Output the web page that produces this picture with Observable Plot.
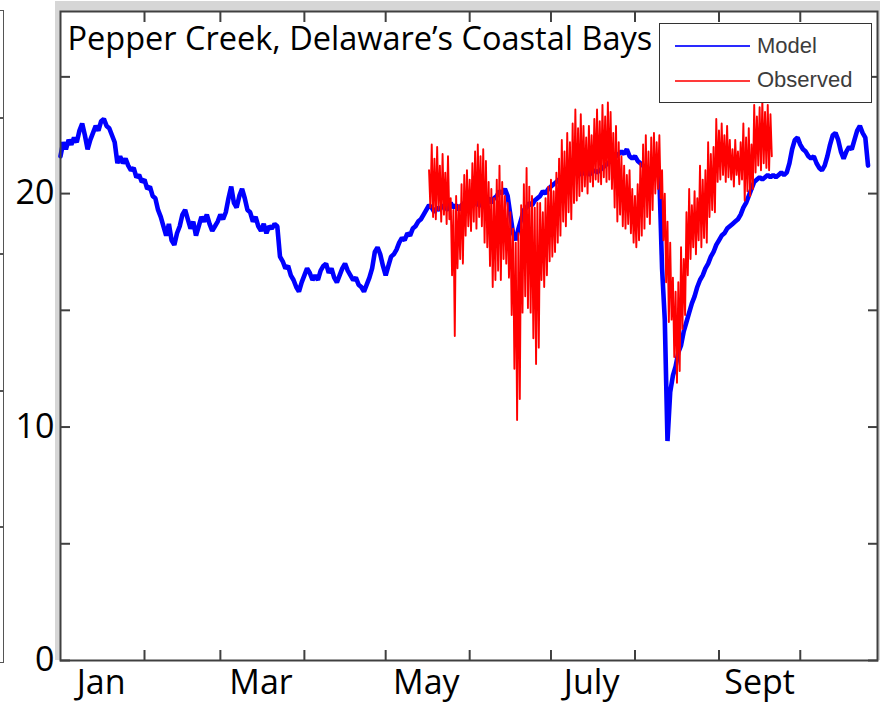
<!DOCTYPE html>
<html>
<head>
<meta charset="utf-8">
<script src="https://cdn.jsdelivr.net/npm/d3@7"></script>
<script src="https://cdn.jsdelivr.net/npm/@observablehq/plot@0.6"></script>
<style>
  html, body { margin: 0; padding: 0; background: #fff; }
  #fig { position: relative; width: 880px; height: 704px; overflow: hidden; background: #fff; }
  #backdrop { position: absolute; left: 55px; top: 1px; width: 825px; height: 659px; background: #d6d6d6; }
  #chart { position: absolute; left: 0; top: 0; }
  #neighbor { position: absolute; left: 0; top: 10px; width: 3px; height: 651px; border-top: 1.5px solid #555; border-right: 1.5px solid #555; border-bottom: 1.5px solid #555; }
  #neighbor .tk { position: absolute; left: 0; width: 4px; height: 1.5px; background: #555; }
  #legend { position: absolute; left: 659px; top: 23px; width: 211px; height: 78px; border: 1.5px solid #333; background: #fff;
            font-family: "Liberation Sans", Arial, sans-serif; font-size: 22px; color: #3c3c3c; }
  #legend .sw { position: absolute; left: 15px; width: 75px; height: 2px; }
  #legend .lab { position: absolute; left: 97px; line-height: 24px; }
</style>
</head>
<body>
<div id="fig">
  <div id="backdrop"></div>
  <div id="neighbor">
    <div class="tk" style="top:106px"></div>
    <div class="tk" style="top:242px"></div>
    <div class="tk" style="top:379px"></div>
    <div class="tk" style="top:515px"></div>
  </div>
  <div id="chart"></div>
  <div id="legend">
    <div class="sw" style="top:21px;background:#2a2aff"></div>
    <div class="lab" style="top:10px">Model</div>
    <div class="sw" style="top:56px;background:#ff3a3a"></div>
    <div class="lab" style="top:44px">Observed</div>
  </div>
</div>
<script>
// Pepper Creek salinity: daily model output and twice-daily observed extremes.
const title = "Pepper Creek, Delaware’s Coastal Bays";

// Model series, one value per day starting Jan 1.
const modelStart = "2010-01-01";
const modelSalinity = [
  21.6, 22.2, 21.9, 22.3, 22.1, 22.4, 22.2, 22.7, 23.0, 22.5,
  21.9, 22.3, 22.6, 22.9, 22.7, 23.1, 23.2, 22.9, 22.8, 22.5,
  22.2, 21.3, 21.6, 21.3, 21.5, 21.2, 21.0, 21.1, 20.7, 20.8,
  20.5, 20.6, 20.2, 20.3, 19.9, 19.8, 19.3, 19.0, 18.6, 18.2,
  18.7, 18.0, 17.8, 18.3, 18.6, 19.1, 19.3, 18.9, 18.5, 18.8,
  18.2, 18.6, 19.0, 18.8, 19.1, 18.7, 18.4, 18.6, 18.8, 19.1,
  18.9, 19.2, 19.8, 20.3, 19.6, 19.4, 19.9, 20.2, 19.8, 19.3,
  19.2, 18.8, 19.0, 18.6, 18.4, 18.7, 18.3, 18.6, 18.5, 18.7,
  18.6, 17.3, 17.1, 16.8, 16.9, 16.5, 16.3, 16.0, 15.8, 16.2,
  16.5, 16.8, 16.6, 16.3, 16.5, 16.3, 16.7, 16.9, 17.0, 16.6,
  16.8, 16.4, 16.2, 16.5, 16.8, 17.0, 16.7, 16.5, 16.3, 16.4,
  16.1, 16.0, 15.8, 16.1, 16.4, 16.8, 17.5, 17.7, 17.4, 16.9,
  16.5, 16.9, 17.3, 17.4, 17.6, 17.9, 18.1, 18.0, 18.3, 18.2,
  18.5, 18.6, 18.8, 18.9, 19.1, 19.3, 19.5, 19.4, 19.2, 19.4,
  19.3, 19.5, 19.4, 19.3, 19.6, 19.4, 19.5, 19.3, 19.5, 19.6,
  19.4, 19.6, 19.5, 19.7, 19.5, 19.6, 19.4, 19.7, 19.8, 19.6,
  19.8, 19.9, 20.1, 20.0, 20.2, 19.9, 19.1, 18.3, 18.0, 18.5,
  18.9, 19.3, 19.4, 19.6, 19.5, 19.7, 19.8, 19.9, 20.1, 20.0,
  20.2, 20.3, 20.4, 20.5, 20.6, 20.7, 20.6, 20.8, 20.9, 20.8,
  20.9, 21.0, 20.8, 20.9, 21.0, 20.8, 20.9, 21.0, 20.9, 21.0,
  21.1, 21.2, 21.3, 21.4, 21.5, 21.6, 21.7, 21.8, 21.7, 21.9,
  21.6, 21.5, 21.6, 21.4, 21.3, 21.2, 21.0, 21.1, 20.9, 20.8,
  20.9, 20.7, 16.8, 14.6, 9.4, 11.5, 12.2, 12.6, 13.2, 13.5,
  14.1, 14.5, 14.9, 15.3, 15.6, 16.0, 16.3, 16.5, 16.8, 17.0,
  17.3, 17.5, 17.8, 18.0, 18.2, 18.3, 18.5, 18.6, 18.7, 18.8,
  18.9, 19.1, 19.4, 19.6, 19.9, 20.2, 20.5, 20.6, 20.7, 20.6,
  20.7, 20.8, 20.7, 20.8, 20.7, 20.8, 20.9, 20.8, 20.9, 21.3,
  21.9, 22.3, 22.4, 22.1, 21.9, 21.8, 21.6, 21.5, 21.6, 21.3,
  21.1, 21.0, 21.2, 21.6, 22.1, 22.5, 22.6, 22.3, 21.8, 21.5,
  21.8, 22.0, 21.9, 22.3, 22.7, 22.9, 22.6, 22.4, 21.2
];

// Observed record: daily high and low readings starting May 17.
const obsStart = "2010-05-17";
const obsHigh = [
  21.0, 22.1, 21.5, 22.0, 21.2, 21.7, 20.9, 21.6, 19.8, 19.3,
  19.9, 19.5, 20.4, 20.8, 21.0, 20.6, 21.3, 21.8, 22.1, 21.6,
  21.9, 21.4, 20.5, 20.2, 19.8, 20.6, 21.2, 20.5, 19.9, 19.6,
  19.2, 18.5, 17.9, 18.3, 19.5, 20.4, 21.1, 20.3, 19.9, 19.4,
  19.6, 19.6, 19.2, 19.8, 20.3, 20.6, 20.1, 20.9, 21.5, 22.3,
  21.8, 22.6, 22.2, 23.0, 23.6, 22.8, 23.4, 22.9, 22.4, 22.9,
  22.5, 23.2, 23.6, 23.1, 23.8, 23.3, 23.9, 23.5, 22.6, 22.9,
  22.2, 21.6, 21.2, 20.8, 21.0, 20.2, 19.9, 20.4, 21.3, 22.1,
  22.5, 21.8, 22.4, 22.6, 22.2, 22.5, 21.0, 20.0, 18.8, 17.9,
  16.4, 15.8, 16.2, 17.7, 17.2, 19.2, 20.2, 19.5, 20.1, 19.8,
  21.2, 20.6, 21.0, 22.2, 21.7, 22.0, 23.2, 22.7, 23.0, 22.5,
  22.9, 22.3, 21.9, 22.3, 21.8, 22.2, 23.0, 22.4, 22.8, 22.1,
  23.8, 23.3, 23.7, 24.0, 23.5, 23.8, 23.4
];
const obsLow = [
  19.4, 19.0, 18.9, 19.3, 18.8, 19.1, 18.7, 18.9, 16.5, 13.9,
  16.8, 17.2, 17.0, 18.2, 18.6, 18.4, 18.8, 18.5, 19.0, 18.6,
  17.9, 17.7, 16.9, 16.0, 16.3, 16.7, 16.3, 17.2, 17.0, 16.4,
  14.8, 12.5, 10.3, 11.2, 14.9, 15.6, 15.1, 14.9, 13.8, 12.7,
  13.4, 16.3, 16.0, 16.5, 17.1, 17.3, 17.5, 17.9, 18.2, 18.8,
  18.6, 19.2, 18.9, 19.6, 19.7, 19.9, 20.1, 20.3, 20.0, 20.5,
  20.3, 20.6, 20.5, 20.4, 20.7, 20.5, 20.6, 20.2, 19.4, 18.8,
  19.1, 18.6, 18.5, 18.7, 18.3, 17.9, 17.7, 18.0, 18.2, 18.5,
  19.0, 18.7, 19.3, 20.0, 20.2, 19.8, 18.0, 16.2, 14.5, 14.6,
  13.0, 11.9, 12.4, 14.2, 14.8, 16.5, 17.2, 17.7, 17.4, 18.0,
  17.7, 18.1, 17.9, 19.0, 19.3, 19.2, 20.5, 20.6, 20.8, 20.5,
  20.7, 20.6, 20.3, 20.8, 20.4, 20.6, 19.7, 20.1, 19.9, 20.2,
  20.9, 21.2, 21.0, 21.3, 21.1, 21.0, 21.6
];

// Axis content.
const xDomain = ["2010-01-01", "2010-10-29T12:00"];
const monthStarts = ["2010-02-01", "2010-03-01", "2010-04-01", "2010-05-01", "2010-06-01",
                     "2010-07-01", "2010-08-01", "2010-09-01", "2010-10-01"];
const monthLabels = ["Jan", "Mar", "May", "July", "Sept"];
const monthLabelDates = ["2010-01-16", "2010-03-16", "2010-05-16", "2010-07-16", "2010-09-16"];
const yTicks = [0, 5, 10, 15, 20, 25];
const yLabels = [0, 10, 20];

const DAY = 864e5;
const model = modelSalinity.map((v, i) => ({date: new Date(+new Date(modelStart) + i * DAY), v}));
const observed = obsHigh.flatMap((h, i) => [
  {date: new Date(+new Date(obsStart) + i * DAY), v: h},
  {date: new Date(+new Date(obsStart) + (i + 0.5) * DAY), v: obsLow[i]}
]);

const labelDates = monthLabelDates.map(d => new Date(d));
const labelByTime = new Map(labelDates.map((d, i) => [+d, monthLabels[i]]));
const tickDates = monthStarts.map(d => new Date(d));
const axisColor = "#404040";

const chart = Plot.plot({
  width: 880,
  height: 704,
  marginLeft: 60,
  marginRight: 3,
  marginTop: 11,
  marginBottom: 44,
  style: {background: "transparent", fontFamily: "'Open Sans', sans-serif", color: "#000"},
  x: {type: "utc", domain: xDomain.map(d => new Date(d))},
  y: {domain: [0, 27.8]},
  marks: [
    Plot.frame({fill: "white", stroke: null}),
    Plot.lineY(model, {x: "date", y: "v", stroke: "#0000ff", strokeWidth: 4.6, strokeLinejoin: "miter"}),
    Plot.lineY(observed, {x: "date", y: "v", stroke: "#ff0000", strokeWidth: 1.9}),
    Plot.text([title], {frameAnchor: "top-left", dx: 7, dy: 15, lineAnchor: "top", textAnchor: "start",
                        fontSize: 32.5, fill: "#000"}),
    // inward tick marks on all four sides
    Plot.axisY({anchor: "left", ticks: yTicks, tickSize: -10, tickFormat: () => "", label: null,
                stroke: axisColor, strokeWidth: 2}),
    Plot.axisY({anchor: "right", ticks: yTicks, tickSize: -10, tickFormat: () => "", label: null,
                stroke: axisColor, strokeWidth: 2}),
    Plot.axisX({anchor: "bottom", ticks: tickDates, tickSize: -10, tickFormat: () => "", label: null,
                stroke: axisColor, strokeWidth: 2}),
    Plot.axisX({anchor: "top", ticks: tickDates, tickSize: -10, tickFormat: () => "", label: null,
                stroke: axisColor, strokeWidth: 2}),
    // tick labels
    Plot.axisY({anchor: "left", ticks: yLabels, tickSize: 0, tickPadding: 6, fontSize: 34, label: null}),
    Plot.axisX({anchor: "bottom", ticks: labelDates, tickSize: 0, tickPadding: 9, fontSize: 34, label: null,
                tickFormat: d => labelByTime.get(+d)}),
    Plot.frame({stroke: axisColor, strokeWidth: 2})
  ]
});
document.getElementById("chart").append(chart);
</script>
</body>
</html>
